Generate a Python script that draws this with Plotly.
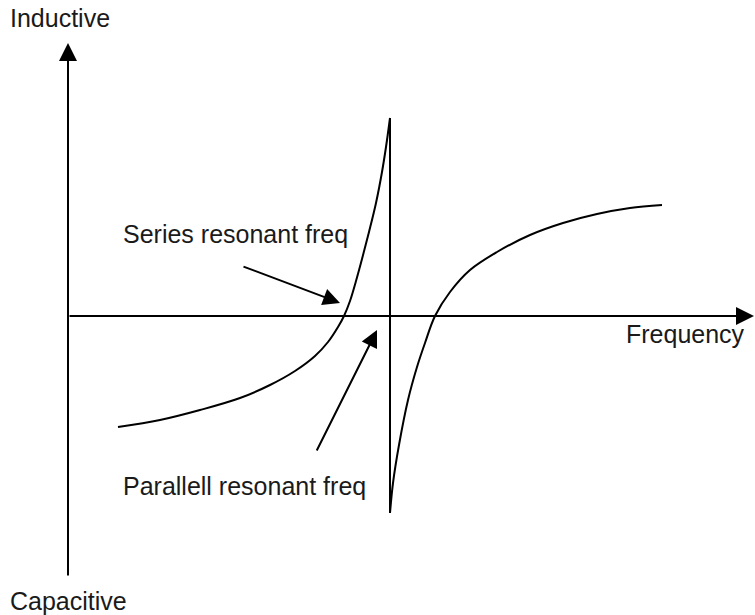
import plotly.graph_objects as go

# reactance vs frequency, origin where the two axes cross
freq_low = [50, 92, 132, 172, 202, 227, 247, 260, 270, 276, 282, 288, 294, 301, 308, 314, 318, 322]
react_low = [-111, -104, -94, -82, -69, -55, -40, -26, -11, 0, 15, 35, 57, 84, 113, 144, 169, 198]

freq_jump = [322, 322]
react_jump = [198, -197]

freq_high = [322, 325, 331, 340, 349, 357, 367, 382, 402, 429, 462, 495, 529, 562, 594]
react_high = [-197, -167, -129, -84, -51, -27, 0, 24, 46, 64, 81, 93, 102, 108, 111]

# axis extents (with arrow tips)
x_axis = [0, 686]
y_axis = [-261, 273]

# pointers: [tail, tip] for each label
series_arrow = [(174, 50), (272, 13)]
parallel_arrow = [(248, -136), (309, -14)]

FONT = 'Liberation Sans, Arial, sans-serif'
line_style = dict(color='black', width=2)

fig = go.Figure()
fig.add_trace(go.Scatter(x=freq_low, y=react_low, mode='lines', line=dict(shape='spline', smoothing=1, **line_style)))
fig.add_trace(go.Scatter(x=freq_jump, y=react_jump, mode='lines', line=line_style))
fig.add_trace(go.Scatter(x=freq_high, y=react_high, mode='lines', line=dict(shape='spline', smoothing=1, **line_style)))

# axes drawn as arrows
fig.add_annotation(x=0, y=y_axis[1], ax=0, ay=y_axis[0], xref='x', yref='y', axref='x', ayref='y',
                   text='', showarrow=True, arrowhead=2, arrowsize=1.8, arrowwidth=2, arrowcolor='black', standoff=0)
fig.add_annotation(x=x_axis[1], y=0, ax=x_axis[0], ay=0, xref='x', yref='y', axref='x', ayref='y',
                   text='', showarrow=True, arrowhead=2, arrowsize=1.8, arrowwidth=2, arrowcolor='black', standoff=0)

# label pointers
for tail, tip in [series_arrow, parallel_arrow]:
    fig.add_annotation(x=tip[0], y=tip[1], ax=tail[0], ay=tail[1], xref='x', yref='y', axref='x', ayref='y',
                       text='', showarrow=True, arrowhead=2, arrowsize=1.7, arrowwidth=2, arrowcolor='black', standoff=0)

labels = [
    ('Inductive', -60, 298),
    ('Series resonant freq', 53, 82),
    ('Parallell resonant freq', 53, -170),
    ('Frequency', 556, -18),
    ('Capacitive', -60, -285),
]
for txt, lx, ly in labels:
    fig.add_annotation(x=lx, y=ly, xref='x', yref='y', text=txt, showarrow=False,
                       xanchor='left', yanchor='middle', font=dict(family=FONT, size=25, color='#1a1a1a'))

fig.update_layout(
    width=755,
    height=615,
    margin=dict(l=0, r=0, t=0, b=0),
    showlegend=False,
    plot_bgcolor='white',
    paper_bgcolor='white',
    xaxis=dict(range=[-68, 687], visible=False, fixedrange=True),
    yaxis=dict(range=[-299, 316], visible=False, fixedrange=True),
)

# page body has a default 8px margin, drop it so the figure sits at the corner
fig.write_html("out.html", config={'displayModeBar': False},
               post_script="document.body.style.margin='0px';document.body.style.overflow='hidden';")
